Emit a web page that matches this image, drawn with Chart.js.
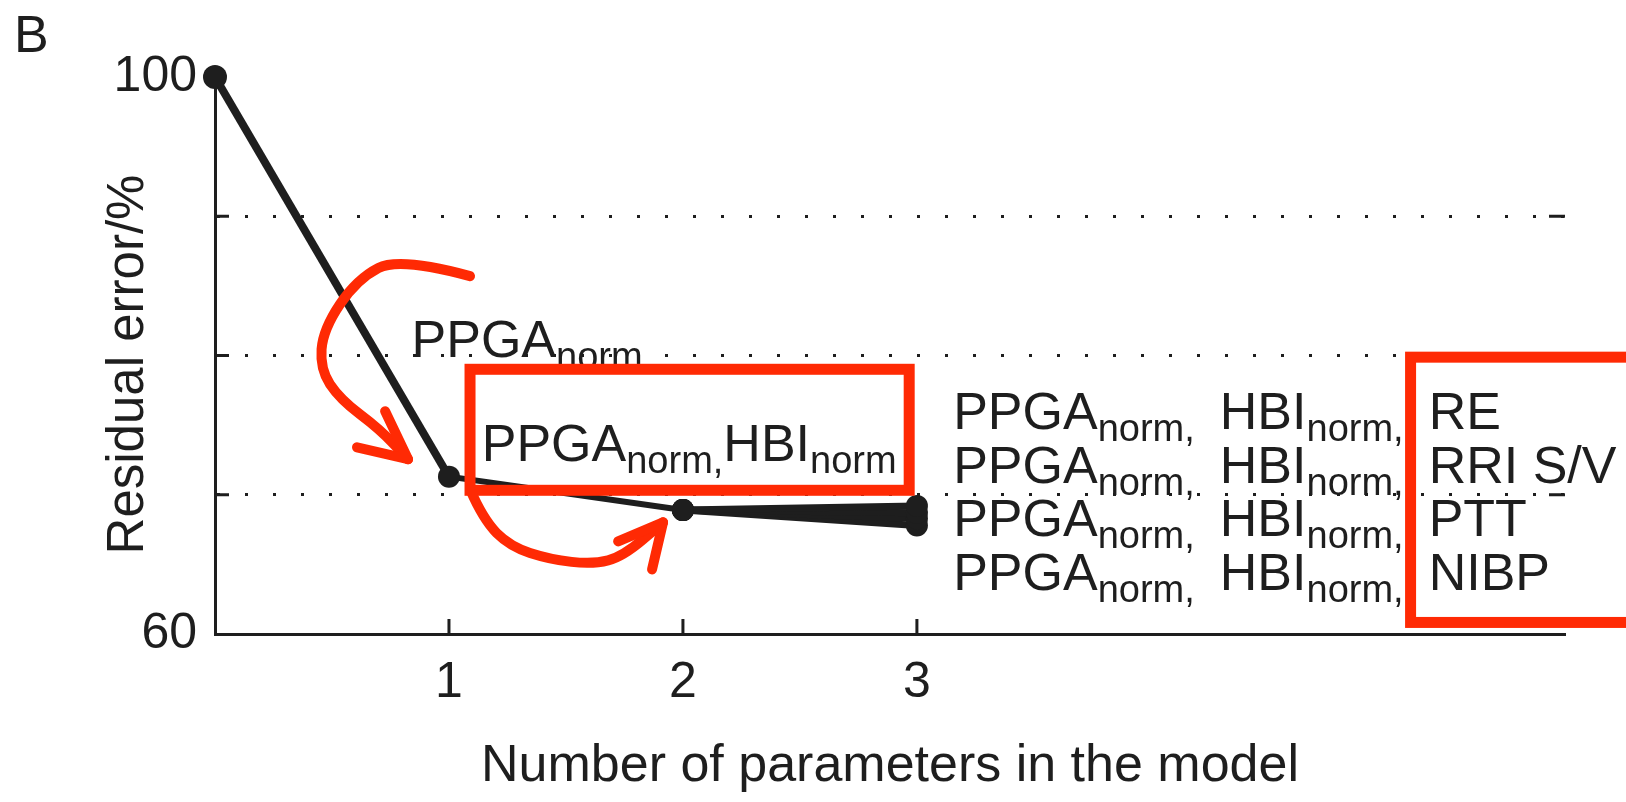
<!DOCTYPE html>
<html lang="en">
<head>
<meta charset="UTF-8">
<title>Residual error vs number of parameters</title>
<script src="https://cdn.jsdelivr.net/npm/chart.js"></script>
<style>
  html, body { margin: 0; padding: 0; background: #fff; }
  #wrap { width: 1626px; height: 802px; }
</style>
</head>
<body>
<div id="wrap"><canvas id="residualChart" width="1626" height="802"></canvas></div>
<script>
// stepwise model: residual error after adding each parameter
const paramCounts = [0, 1, 2];
const residualError = [100, 71.3, 68.9];
// candidates for the third parameter on top of PPGA_norm + HBI_norm
const thirdCount = 3;
const thirdParams = ['RE', 'RRI S/V', 'PTT', 'NIBP'];
const thirdResidual = [69.2, 68.7, 68.3, 67.8];
// axes
const xTickValues = [1, 2, 3];
const yTickValues = [60, 70, 80, 90, 100];
const yLabelled = [60, 100];
const yDotted = [70, 80, 90];

const INK = '#1e1e1e';
const RED = '#ff2a04';
const FONT = '"Liberation Sans", Arial, Helvetica, sans-serif';

const lineStyle = {
    borderColor: INK,
    backgroundColor: INK,
    borderWidth: 7,
    pointRadius: 11,
    pointBorderWidth: 0,
    pointBackgroundColor: INK,
    tension: 0,
    clip: false
};

const datasets = [{
    label: 'model',
    data: paramCounts.map((p, i) => ({ x: p, y: residualError[i] })),
    ...lineStyle,
    pointRadius: [12, 11, 11],
    // first step drawn a little heavier than the second
    segment: { borderWidth: c => c.p0DataIndex === 0 ? 8 : 6 }
}];
thirdParams.forEach((name, i) => {
    datasets.push({
        label: name,
        data: [
            { x: paramCounts[2], y: residualError[2] },
            { x: thirdCount, y: thirdResidual[i] }
        ],
        ...lineStyle
    });
});

// text with "norm" subscripts, drawn piece by piece
function drawParts(ctx, parts, x, y) {
    ctx.save();
    ctx.fillStyle = INK;
    ctx.textBaseline = 'alphabetic';
    ctx.textAlign = 'left';
    parts.forEach(p => {
        ctx.font = (p.sub ? '38px ' : '52px ') + FONT;
        ctx.fillText(p.t, x, y + (p.sub ? 12 : 0));
        x += ctx.measureText(p.t).width;
    });
    ctx.restore();
}

function smoothStroke(ctx, pts) {
    ctx.beginPath();
    ctx.moveTo(pts[0][0], pts[0][1]);
    for (let i = 1; i < pts.length - 1; i++) {
        const mx = (pts[i][0] + pts[i + 1][0]) / 2;
        const my = (pts[i][1] + pts[i + 1][1]) / 2;
        ctx.quadraticCurveTo(pts[i][0], pts[i][1], mx, my);
    }
    const last = pts[pts.length - 1];
    ctx.lineTo(last[0], last[1]);
    ctx.stroke();
}

const overlayPlugin = {
    id: 'overlay',
    afterDraw(chart) {
        const ctx = chart.ctx;
        const xs = chart.scales.x, ys = chart.scales.y;
        const P = (xv, yv) => [xs.getPixelForValue(xv), ys.getPixelForValue(yv)];
        const area = chart.chartArea;

        // inward tick marks: left, right and bottom
        ctx.save();
        ctx.strokeStyle = INK;
        ctx.lineWidth = 3;
        ctx.beginPath();
        yDotted.forEach(v => {
            const py = ys.getPixelForValue(v);
            ctx.moveTo(area.left, py); ctx.lineTo(area.left + 14, py);
            ctx.moveTo(area.right, py); ctx.lineTo(area.right - 16, py);
        });
        xTickValues.forEach(v => {
            const px = xs.getPixelForValue(v);
            ctx.moveTo(px, area.bottom); ctx.lineTo(px, area.bottom - 15);
        });
        ctx.stroke();
        ctx.restore();

        // panel letter
        ctx.save();
        ctx.fillStyle = INK;
        ctx.font = '52px ' + FONT;
        ctx.fillText('B', 14, 52);
        ctx.restore();

        // y axis title, centred a little below the middle of the axis
        ctx.save();
        ctx.fillStyle = INK;
        ctx.font = '51px ' + FONT;
        ctx.textAlign = 'center';
        ctx.textBaseline = 'middle';
        ctx.translate(129, (area.top + area.bottom) / 2 + 9);
        ctx.rotate(-Math.PI / 2);
        ctx.fillText('Residual error/%', 0, 0);
        ctx.restore();

        // parameter labels
        let [lx, ly] = P(0.84, 79.9);
        drawParts(ctx, [{ t: 'PPGA' }, { t: 'norm', sub: true }], lx, ly);

        [lx, ly] = P(1.14, 72.45);
        drawParts(ctx, [{ t: 'PPGA' }, { t: 'norm', sub: true }, { t: ',', sub: true },
            { t: 'HBI' }, { t: 'norm', sub: true }], lx, ly);

        thirdParams.forEach((name, i) => {
            const [tx, ty] = P(3.155, 74.7 - i * 3.84);
            drawParts(ctx, [
                { t: 'PPGA' }, { t: 'norm', sub: true }, { t: ', ', sub: true }, { t: ' ' },
                { t: 'HBI' }, { t: 'norm', sub: true }, { t: ', ', sub: true }, { t: ' ' },
                { t: name }
            ], tx, ty);
        });

        // red highlight boxes and arrows
        ctx.save();
        ctx.strokeStyle = RED;
        ctx.lineWidth = 11;
        ctx.lineJoin = 'miter';
        let [bx1, by1] = P(1.09, 79.01);
        let [bx2, by2] = P(2.967, 70.32);
        ctx.strokeRect(bx1, by1, bx2 - bx1, by2 - by1);
        [bx1, by1] = P(5.11, 79.88);
        [bx2, by2] = P(6.4, 60.83);
        ctx.strokeRect(bx1, by1, bx2 - bx1, by2 - by1);

        ctx.lineWidth = 10;
        ctx.lineCap = 'round';
        ctx.lineJoin = 'round';
        const arrow1 = [[1.09, 85.7], [0.79, 87.07], [0.607, 85.49], [0.462, 81.89],
            [0.449, 79.01], [0.534, 76.86], [0.705, 74.7], [0.825, 72.55]].map(p => P(p[0], p[1]));
        smoothStroke(ctx, arrow1);
        const tip1 = P(0.825, 72.55);
        let w1 = P(0.607, 73.41), w2 = P(0.727, 76.0);
        ctx.beginPath();
        ctx.moveTo(w1[0], w1[1]); ctx.lineTo(tip1[0], tip1[1]); ctx.lineTo(w2[0], w2[1]);
        ctx.stroke();

        const arrow2 = [[1.09, 70.39], [1.146, 68.23], [1.261, 66.29], [1.432, 65.36],
            [1.616, 65.0], [1.744, 65.57], [1.915, 68.02]].map(p => P(p[0], p[1]));
        smoothStroke(ctx, arrow2);
        const tip2 = P(1.915, 68.02);
        w1 = P(1.723, 66.65); w2 = P(1.868, 64.64);
        ctx.beginPath();
        ctx.moveTo(w1[0], w1[1]); ctx.lineTo(tip2[0], tip2[1]); ctx.lineTo(w2[0], w2[1]);
        ctx.stroke();
        ctx.restore();
    }
};

new Chart(document.getElementById('residualChart'), {
    type: 'line',
    data: { datasets },
    options: {
        responsive: false,
        animation: false,
        layout: { padding: { top: 77, right: 61, left: 0, bottom: 0 } },
        plugins: { legend: { display: false }, tooltip: { enabled: false } },
        scales: {
            x: {
                type: 'linear',
                min: 0,
                max: 5.77,
                afterBuildTicks: axis => { axis.ticks = xTickValues.map(v => ({ value: v })); },
                afterFit: scale => { scale.height = 168; },
                grid: { display: false },
                border: { display: true, color: INK, width: 3 },
                ticks: { color: INK, padding: 11, font: { family: FONT, size: 50 } },
                title: {
                    display: true,
                    text: 'Number of parameters in the model',
                    color: INK,
                    font: { family: FONT, size: 52 },
                    padding: { top: 0, bottom: 4 }
                }
            },
            y: {
                type: 'linear',
                min: 60,
                max: 100,
                afterBuildTicks: axis => { axis.ticks = yTickValues.map(v => ({ value: v })); },
                afterFit: scale => { scale.width = 215; },
                grid: {
                    drawTicks: false,
                    lineWidth: 3,
                    color: c => (c.tick && yDotted.includes(c.tick.value)) ? INK : 'rgba(0,0,0,0)'
                },
                border: { display: true, color: INK, width: 3, dash: [3, 25] },
                ticks: {
                    color: INK,
                    padding: 18,
                    font: { family: FONT, size: 50 },
                    callback: v => yLabelled.includes(v) ? String(v) : ''
                }
            }
        }
    },
    plugins: [overlayPlugin]
});
</script>
</body>
</html>
